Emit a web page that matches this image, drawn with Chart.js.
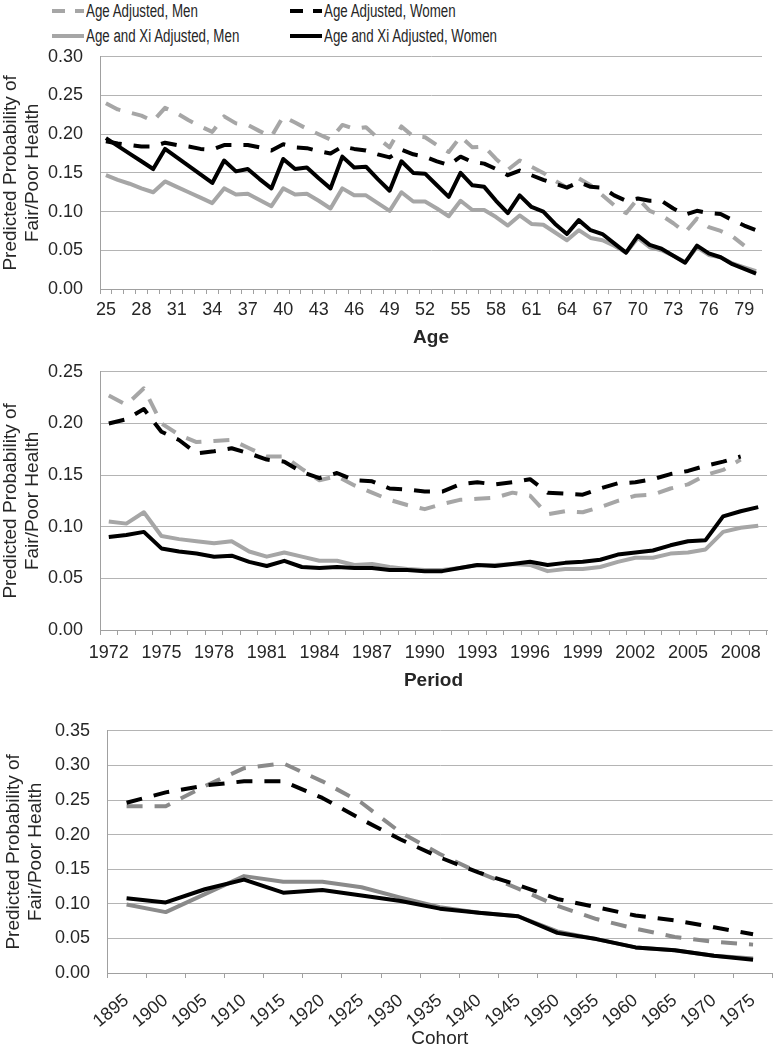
<!DOCTYPE html>
<html lang="en">
<head>
  <meta charset="UTF-8" />
  <title>Predicted Probability of Fair/Poor Health</title>
  <script src="https://cdn.jsdelivr.net/npm/chart.js"></script>
  <style>
    body {
      margin: 0;
      background: #fff;
      font-family: 'Liberation Sans', Arial, sans-serif;
      color: #262626;
    }

    #page {
      position: relative;
      width: 779px;
      height: 1050px;
      overflow: hidden;
    }

    canvas {
      position: absolute;
      left: 0;
    }

    .key {
      position: absolute;
      height: 20px;
      display: flex;
      align-items: center;
      white-space: nowrap;
    }

    .key svg {
      width: 32px;
      height: 8px;
      margin-right: 2px;
    }

    .key span {
      display: inline-block;
      font-size: 18px;
      transform: scaleX(0.74);
      transform-origin: left center;
    }
  </style>
</head>
<body>

<div id="page">
  <div class="key" style="left:52px; top:1px;">
    <svg><line x1="0" y1="4" x2="32" y2="4" stroke="#a6a6a6" stroke-width="4" stroke-dasharray="13 10" /></svg>
    <span>Age Adjusted, Men</span>
  </div>
  <div class="key" style="left:290px; top:1px;">
    <svg><line x1="0" y1="4" x2="32" y2="4" stroke="#000" stroke-width="4" stroke-dasharray="13 10" /></svg>
    <span>Age Adjusted, Women</span>
  </div>
  <div class="key" style="left:52px; top:26px;">
    <svg><line x1="0" y1="4" x2="32" y2="4" stroke="#a6a6a6" stroke-width="4" /></svg>
    <span>Age and Xi Adjusted, Men</span>
  </div>
  <div class="key" style="left:290px; top:26px;">
    <svg><line x1="0" y1="4" x2="32" y2="4" stroke="#000" stroke-width="4" /></svg>
    <span>Age and Xi Adjusted, Women</span>
  </div>

  <canvas id="ageChart" width="779" height="321" style="top:29px;"></canvas>
  <canvas id="periodChart" width="779" height="349" style="top:344px;"></canvas>
  <canvas id="cohortChart" width="779" height="347" style="top:703px;"></canvas>
</div>

<script>
  // --- Age panel ---
  const ages = ['25', '26', '27', '28', '29', '30', '31', '32', '33', '34', '35', '36', '37', '38',
    '39', '40', '41', '42', '43', '44', '45', '46', '47', '48', '49', '50', '51', '52',
    '53', '54', '55', '56', '57', '58', '59', '60', '61', '62', '63', '64', '65', '66',
    '67', '68', '69', '70', '71', '72', '73', '74', '75', '76', '77', '78', '79', '80'];

  const ageMen = [0.240, 0.232, 0.228, 0.224, 0.217, 0.234, 0.227, 0.218, 0.210, 0.203,
    0.223, 0.214, 0.212, 0.204, 0.197, 0.223, 0.215, 0.207, 0.200, 0.193,
    0.212, 0.207, 0.209, 0.195, 0.183, 0.210, 0.197, 0.196, 0.186, 0.177,
    0.197, 0.183, 0.184, 0.168, 0.154, 0.166, 0.158, 0.150, 0.140, 0.131,
    0.143, 0.134, 0.121, 0.108, 0.098, 0.117, 0.101, 0.095, 0.085, 0.073,
    0.091, 0.080, 0.075, 0.068, 0.056, null];

  const ageWomen = [0.191, 0.188, 0.186, 0.184, 0.184, 0.189, 0.186, 0.184, 0.181, 0.180,
    0.186, 0.186, 0.186, 0.183, 0.179, 0.187, 0.183, 0.182, 0.178, 0.175,
    0.184, 0.181, 0.179, 0.174, 0.170, 0.180, 0.174, 0.171, 0.165, 0.160,
    0.171, 0.164, 0.162, 0.155, 0.147, 0.153, 0.147, 0.141, 0.136, 0.131,
    0.138, 0.132, 0.131, 0.121, 0.114, 0.117, 0.114, 0.114, 0.104, 0.096,
    0.101, 0.098, 0.097, 0.089, 0.082, 0.076];

  const ageXiMen = [0.147, 0.141, 0.136, 0.130, 0.125, 0.139, 0.132, 0.125, 0.118, 0.111,
    0.130, 0.122, 0.123, 0.115, 0.107, 0.130, 0.122, 0.123, 0.114, 0.104,
    0.130, 0.121, 0.121, 0.111, 0.101, 0.125, 0.113, 0.113, 0.104, 0.094,
    0.114, 0.102, 0.102, 0.093, 0.082, 0.095, 0.084, 0.083, 0.073, 0.063,
    0.076, 0.066, 0.063, 0.056, 0.047, 0.066, 0.054, 0.050, 0.043, 0.035,
    0.054, 0.044, 0.041, 0.033, 0.028, 0.023];

  const ageXiWomen = [0.195, 0.185, 0.175, 0.165, 0.155, 0.181, 0.170, 0.159, 0.148, 0.137,
    0.166, 0.152, 0.155, 0.142, 0.130, 0.168, 0.155, 0.157, 0.143, 0.130,
    0.171, 0.157, 0.158, 0.142, 0.127, 0.165, 0.150, 0.149, 0.134, 0.119,
    0.150, 0.134, 0.132, 0.114, 0.098, 0.121, 0.106, 0.100, 0.084, 0.071,
    0.089, 0.076, 0.071, 0.059, 0.047, 0.069, 0.057, 0.052, 0.043, 0.034,
    0.056, 0.046, 0.041, 0.032, 0.026, 0.020];

  // --- Period panel ---
  const years = ['1972', '1973', '1974', '1975', '1976', '1977', '1978', '1979', '1980', '1981',
    '1982', '1983', '1984', '1985', '1986', '1987', '1988', '1989', '1990', '1991',
    '1992', '1993', '1994', '1995', '1996', '1997', '1998', '1999', '2000', '2001',
    '2002', '2003', '2004', '2005', '2006', '2007', '2008', '2009'];

  const perMen = [0.227, 0.218, 0.234, 0.200, 0.189, 0.182, 0.183, 0.184, 0.176, 0.168,
    0.168, 0.156, 0.145, 0.149, 0.140, 0.133, 0.126, 0.121, 0.117, 0.122,
    0.126, 0.127, 0.128, 0.133, 0.130, 0.112, 0.115, 0.114, 0.119, 0.125,
    0.130, 0.131, 0.137, 0.141, 0.150, 0.155, 0.165, null];

  const perWomen = [0.200, 0.204, 0.214, 0.192, 0.184, 0.171, 0.173, 0.176, 0.171, 0.165,
    0.163, 0.153, 0.147, 0.152, 0.145, 0.144, 0.137, 0.136, 0.134, 0.134,
    0.141, 0.143, 0.141, 0.143, 0.146, 0.133, 0.132, 0.131, 0.137, 0.142,
    0.143, 0.146, 0.151, 0.154, 0.159, 0.163, 0.168, null];

  const perXiMen = [0.105, 0.103, 0.114, 0.091, 0.088, 0.086, 0.084, 0.086, 0.076, 0.071,
    0.075, 0.071, 0.067, 0.067, 0.063, 0.064, 0.061, 0.059, 0.058, 0.058,
    0.060, 0.063, 0.063, 0.064, 0.063, 0.057, 0.059, 0.059, 0.061, 0.066,
    0.070, 0.070, 0.074, 0.075, 0.078, 0.095, 0.099, 0.101];

  const perXiWomen = [0.090, 0.092, 0.095, 0.079, 0.076, 0.074, 0.071, 0.072, 0.066, 0.062,
    0.067, 0.061, 0.060, 0.061, 0.060, 0.060, 0.058, 0.058, 0.057, 0.057,
    0.060, 0.063, 0.062, 0.064, 0.066, 0.063, 0.065, 0.066, 0.068, 0.073,
    0.075, 0.077, 0.082, 0.086, 0.087, 0.110, 0.115, 0.119];

  // --- Cohort panel ---
  const cohorts = ['1895', '1900', '1905', '1910', '1915', '1920', '1925', '1930', '1935',
    '1940', '1945', '1950', '1955', '1960', '1965', '1970', '1975'];

  const cohMen = [0.241, 0.241, 0.270, 0.296, 0.303, 0.277, 0.246, 0.203, 0.172,
    0.145, 0.122, 0.097, 0.078, 0.064, 0.052, 0.045, 0.041];

  const cohWomen = [0.246, 0.261, 0.271, 0.277, 0.277, 0.253, 0.222, 0.193, 0.167,
    0.145, 0.127, 0.107, 0.095, 0.083, 0.076, 0.066, 0.056];

  const cohXiMen = [0.099, 0.088, 0.114, 0.140, 0.132, 0.132, 0.124, 0.109, 0.095,
    0.087, 0.082, 0.060, 0.049, 0.037, 0.033, 0.025, 0.021];

  const cohXiWomen = [0.108, 0.102, 0.121, 0.135, 0.116, 0.120, 0.112, 0.104, 0.093,
    0.087, 0.082, 0.058, 0.049, 0.037, 0.033, 0.025, 0.019];

  const TEXT = "#262626";
  const GRID = "#b4b4b4";
  const AXIS = "#a0a0a0";
  const FONT = "'Liberation Sans', Arial, sans-serif";

  function lineSet(label, data, color, dashed, order) {
    return {
      label: label,
      data: data,
      borderColor: color,
      backgroundColor: color,
      borderWidth: 4,
      borderDash: dashed ? [16, 12] : [],
      borderCapStyle: "butt",
      borderJoinStyle: "round",
      pointRadius: 0,
      tension: 0,
      order: order
    };
  }

  function makeChart(id, labels, sets, cfg) {
    return new Chart(document.getElementById(id), {
      type: "line",
      data: { labels: labels, datasets: sets },
      options: {
        responsive: false,
        maintainAspectRatio: false,
        animation: false,
        // the y ticks' own padding (half a label + 17) sets the top of the plot
        layout: { padding: { top: 0, right: cfg.right, left: 0, bottom: 0 } },
        plugins: { legend: { display: false }, tooltip: { enabled: false } },
        scales: {
          x: {
            offset: true,
            grid: { offset: true, drawOnChartArea: false, drawTicks: true, tickLength: 5, color: AXIS },
            border: { color: AXIS },
            ticks: {
              autoSkip: false,
              minRotation: cfg.rot,
              maxRotation: cfg.rot,
              padding: cfg.tickPad,
              color: TEXT,
              font: { family: FONT, size: 18 },
              callback: function (v, i) {
                return i % cfg.step === 0 ? this.getLabelForValue(v) : "";
              }
            },
            title: {
              display: true,
              text: cfg.xTitle,
              color: TEXT,
              font: { family: FONT, size: 19, weight: cfg.xBold ? "bold" : "normal", lineHeight: 1.2 },
              padding: { top: 0, bottom: cfg.titlePad }
            },
            afterFit: function (s) { s.height = cfg.xHeight; }
          },
          y: {
            min: 0,
            max: cfg.yMax,
            ticks: {
              stepSize: 0.05,
              padding: 17,
              color: TEXT,
              font: { family: FONT, size: 18 },
              callback: v => v.toFixed(2)
            },
            grid: { color: GRID, drawTicks: false },
            border: { color: AXIS },
            title: {
              display: true,
              text: ["Predicted Probability of", "Fair/Poor Health"],
              color: TEXT,
              font: { family: FONT, size: 19, lineHeight: 1.15 },
              padding: { top: cfg.yTitlePad, bottom: 0 }
            },
            afterFit: function (s) { s.width = cfg.yWidth; }
          }
        }
      }
    });
  }

  const LIGHT = "#a6a6a6";
  const MID = "#8a8a8a";

  makeChart("ageChart", ages, [
    lineSet("Age Adjusted, Men", ageMen, LIGHT, true, 3),
    lineSet("Age Adjusted, Women", ageWomen, "#000", true, 2),
    lineSet("Age and Xi Adjusted, Men", ageXiMen, LIGHT, false, 1),
    lineSet("Age and Xi Adjusted, Women", ageXiWomen, "#000", false, 0)
  ], { right: 17, xHeight: 61, tickPad: 5, titlePad: 1, rot: 0, step: 3, xTitle: "Age", xBold: true, yMax: 0.30, yWidth: 100, yTitlePad: 0 });

  makeChart("periodChart", years, [
    lineSet("Age Adjusted, Men", perMen, LIGHT, true, 3),
    lineSet("Age Adjusted, Women", perWomen, "#000", true, 2),
    lineSet("Age and Xi Adjusted, Men", perXiMen, LIGHT, false, 1),
    lineSet("Age and Xi Adjusted, Women", perXiWomen, "#000", false, 0)
  ], { right: 12, xHeight: 63, tickPad: 7, titlePad: 1, rot: 0, step: 3, xTitle: "Period", xBold: true, yMax: 0.25, yWidth: 100, yTitlePad: 0 });

  makeChart("cohortChart", cohorts, [
    lineSet("Age Adjusted, Men", cohMen, MID, true, 3),
    lineSet("Age Adjusted, Women", cohWomen, "#000", true, 2),
    lineSet("Age and Xi Adjusted, Men", cohXiMen, MID, false, 1),
    lineSet("Age and Xi Adjusted, Women", cohXiWomen, "#000", false, 0)
  ], { right: 2, xHeight: 77, tickPad: 12, titlePad: 0, rot: 40, step: 1, xTitle: "Cohort", xBold: false, yMax: 0.35, yWidth: 107, yTitlePad: 3 });
</script>

</body>
</html>
